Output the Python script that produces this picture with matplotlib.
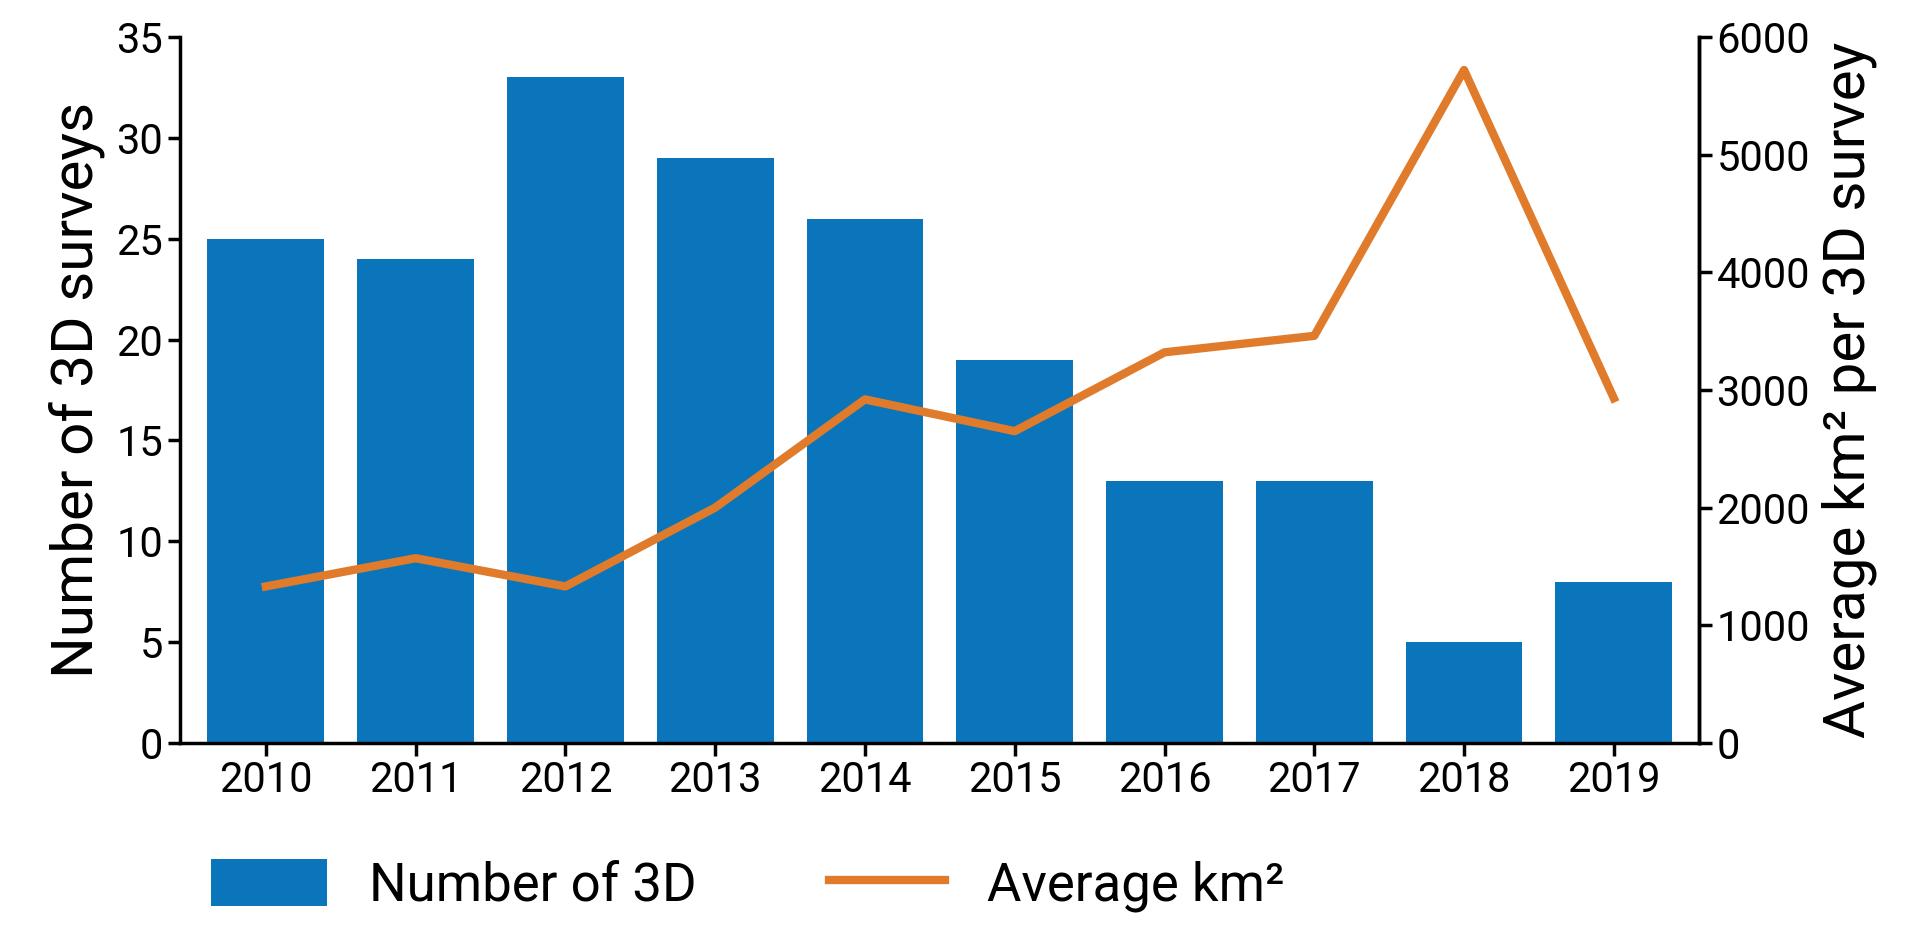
import matplotlib
matplotlib.use("Agg")
import matplotlib.pyplot as plt
import numpy as np

years = ["2010","2011","2012","2013","2014","2015","2016","2017","2018","2019"]
surveys = [25, 24, 33, 29, 26, 19, 13, 13, 5, 8]
avg_km2 = [1330, 1570, 1330, 2000, 2920, 2650, 3320, 3460, 5720, 2930]

blue = "#0a75ba"
orange = "#e07b2c"
plt.rcParams['font.family'] = ['Roboto', 'DejaVu Sans']

fig = plt.figure(figsize=(19.2, 9.5), dpi=100)
ax = fig.add_axes([0.094, 0.218, 0.791, 0.743])
x = np.arange(len(years))
b = ax.bar(x, surveys, width=0.78, color=blue, label="Number of 3D")
ax.set_xlim(-0.57, 9.57)
ax.set_ylim(0, 35)
ax.set_yticks(range(0, 36, 5))
ax.set_xticks(x)
ax.set_xticklabels(years)
ax.set_ylabel("Number of 3D surveys", fontsize=42, labelpad=8)
ax.tick_params(labelsize=30, width=2.5, length=9)
ax.spines['top'].set_visible(False)
for s in ['left', 'bottom', 'right']:
    ax.spines[s].set_linewidth(2.5)

ax2 = ax.twinx()
l, = ax2.plot(x, avg_km2, color=orange, lw=6, label="Average km²")
ax2.set_ylim(0, 6000)
ax2.set_yticks(range(0, 6001, 1000))
ax2.set_ylabel("Average km² per 3D survey", fontsize=42, labelpad=8)
ax2.tick_params(labelsize=30, width=2.5, length=9)
ax2.spines['top'].set_visible(False)
ax2.spines['right'].set_linewidth(2.5)

fig.legend([b, l], ["Number of 3D", "Average km²"], loc="lower left",
           bbox_to_anchor=(0.085, -0.01), ncol=2, frameon=False, fontsize=38,
           handlelength=2.2, handleheight=1.0, columnspacing=2.5)
fig.savefig("out.png", dpi=100)
